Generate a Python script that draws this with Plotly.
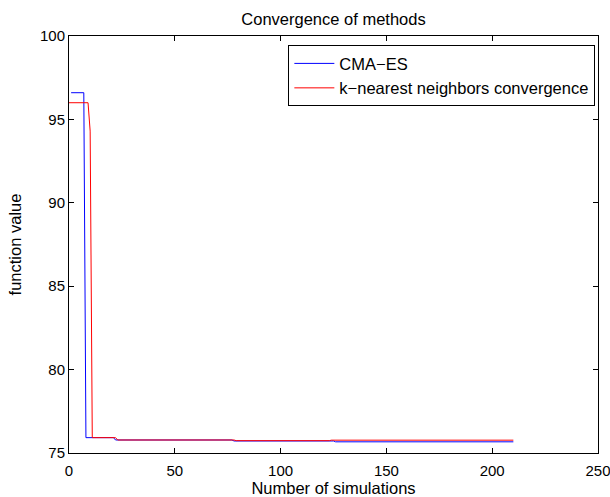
import plotly.graph_objects as go

# CMA-ES convergence (simulation index, best function value)
cma_x = [1, 7, 8, 21, 22, 77, 78, 125, 126, 210]
cma_y = [96.6, 96.6, 75.92, 75.92, 75.78, 75.78, 75.72, 75.72, 75.67, 75.67]

# k-nearest neighbors convergence
knn_x = [0, 9, 10, 11, 22, 23, 78, 79, 123, 124, 210]
knn_y = [96.0, 96.0, 94.3, 75.92, 75.92, 75.78, 75.78, 75.74, 75.74, 75.77, 75.77]

x_ticks = [0, 50, 100, 150, 200, 250]
y_ticks = [75, 80, 85, 90, 95, 100]

font = "Liberation Sans, Arial, Helvetica, sans-serif"
TXT = 16.5
TICK = 15

fig = go.Figure()
fig.add_trace(go.Scatter(x=cma_x, y=cma_y, mode="lines", name="CMA−ES",
                         line=dict(color="#0000ff", width=1)))
fig.add_trace(go.Scatter(x=knn_x, y=knn_y, mode="lines", name="k−nearest neighbors convergence",
                         line=dict(color="#ff0000", width=1)))

axis_common = dict(showline=True, linecolor="black", linewidth=1, mirror="ticks",
                   ticks="inside", ticklen=5, tickcolor="black", showgrid=False,
                   zeroline=False, automargin=False, ticklabeloverflow="allow",
                   tickfont=dict(family=font, size=TICK, color="black"))

fig.update_layout(
    width=610, height=497,
    margin=dict(l=69, r=12, t=36, b=44),
    plot_bgcolor="white", paper_bgcolor="white",
    font=dict(family=font, color="black"),
    title=dict(text="Convergence of methods", x=0.5, xref="paper", xanchor="center",
               y=1 - 19 / 497, yanchor="middle", font=dict(family=font, size=TXT, color="black"),
               automargin=False),
    xaxis=dict(range=[0, 250], tickvals=x_ticks, ticklabelstandoff=4,
               title=dict(text="Number of simulations", font=dict(family=font, size=TXT), standoff=2),
               **axis_common),
    yaxis=dict(range=[75, 100], tickvals=y_ticks, ticklabelstandoff=0,
               title=dict(text="function value", font=dict(family=font, size=TXT), standoff=14),
               **axis_common),
    legend=dict(x=0.995, y=0.978, xanchor="right", yanchor="top", bgcolor="white",
                bordercolor="black", borderwidth=1, font=dict(family=font, size=TXT, color="black"),
                tracegroupgap=0, itemwidth=40),
    showlegend=True,
)

fig.write_html("out.html")
